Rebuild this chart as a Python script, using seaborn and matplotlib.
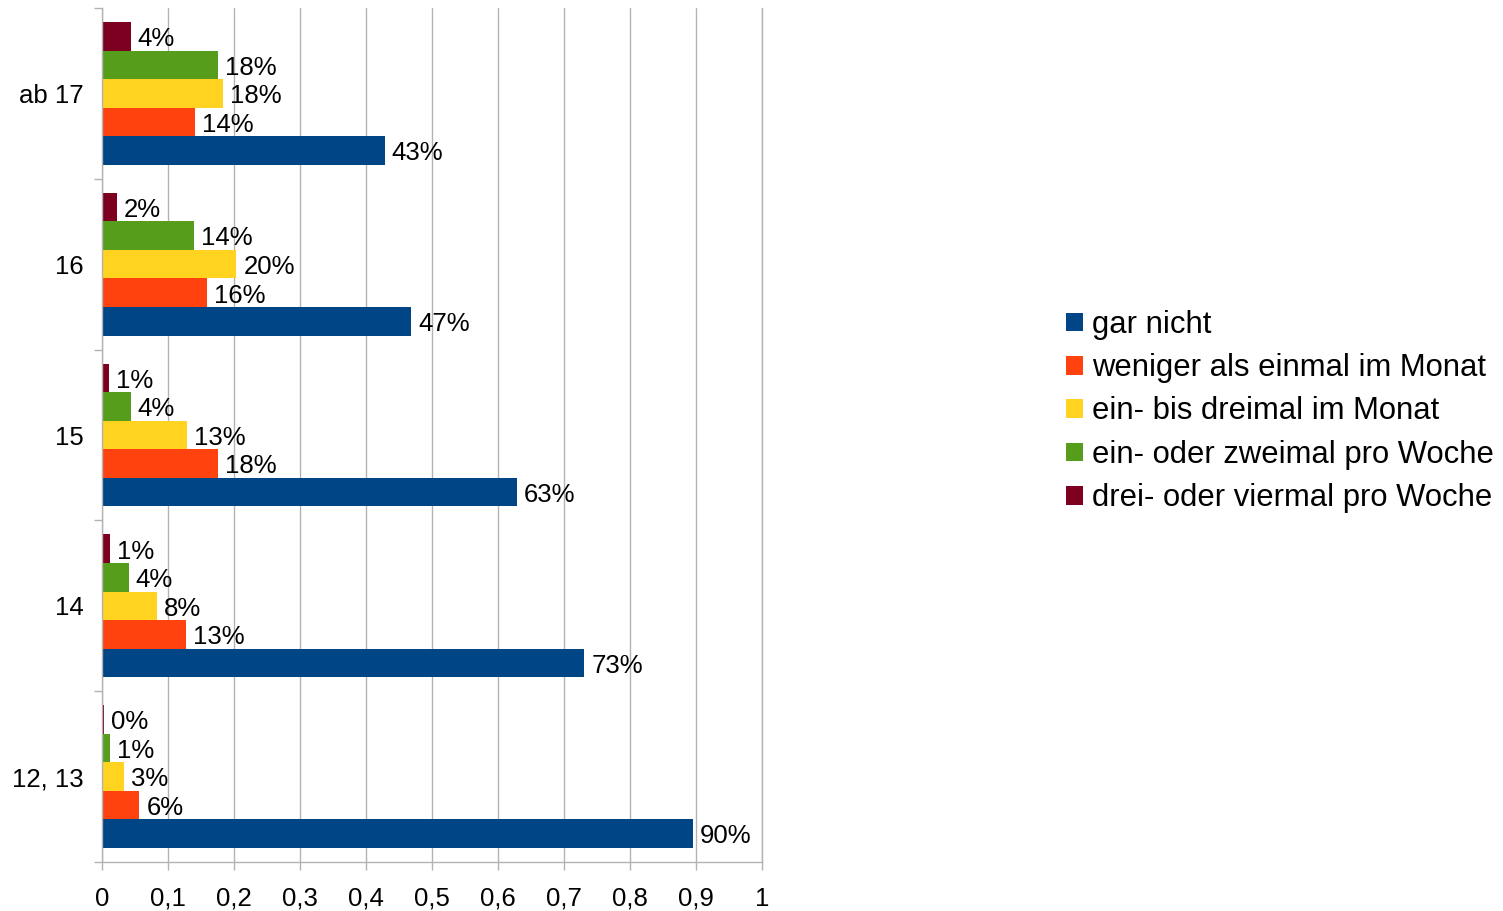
import matplotlib
matplotlib.use("Agg")
import matplotlib.pyplot as plt
from matplotlib.patches import Patch
from matplotlib.ticker import FixedLocator
import numpy as np
import pandas as pd
import seaborn as sns

# Age groups, top to bottom
age_groups = ["ab 17", "16", "15", "14", "12, 13"]

# Share of respondents per frequency answer (fractions of 1)
gar_nicht = [0.429, 0.469, 0.629, 0.731, 0.896]
weniger_als_einmal = [0.141, 0.160, 0.176, 0.128, 0.057]
ein_bis_dreimal = [0.184, 0.204, 0.129, 0.084, 0.034]
ein_oder_zweimal = [0.176, 0.140, 0.044, 0.041, 0.013]
drei_oder_viermal = [0.044, 0.023, 0.011, 0.013, 0.003]

series_names = [
    "gar nicht",
    "weniger als einmal im Monat",
    "ein- bis dreimal im Monat",
    "ein- oder zweimal pro Woche",
    "drei- oder viermal pro Woche",
]
series_values = [gar_nicht, weniger_als_einmal, ein_bis_dreimal,
                 ein_oder_zweimal, drei_oder_viermal]
series_colors = ["#004586", "#ff420e", "#ffd320", "#579d1c", "#7e0021"]

x_ticks = [0, 0.1, 0.2, 0.3, 0.4, 0.5, 0.6, 0.7, 0.8, 0.9, 1]
x_tick_labels = ["0", "0,1", "0,2", "0,3", "0,4", "0,5", "0,6", "0,7", "0,8", "0,9", "1"]

rows = []
for name, vals in zip(series_names, series_values):
    for grp, v in zip(age_groups, vals):
        rows.append({"Alter": grp, "Antwort": name, "Anteil": v})
df = pd.DataFrame(rows)

sns.set_theme(style="white")
plt.rcParams["font.family"] = ["Liberation Sans", "DejaVu Sans"]
plt.rcParams["text.color"] = "black"
plt.rcParams["xtick.color"] = "black"
plt.rcParams["ytick.color"] = "black"

fig = plt.figure(figsize=(15.03, 9.11), dpi=100)
ax = fig.add_axes([0.0677, 0.0538, 0.4391, 0.9374])

# within each group the last series sits at the top
hue_order = series_names[::-1]
palette = dict(zip(series_names, series_colors))

sns.barplot(data=df, y="Alter", x="Anteil", hue="Antwort", order=age_groups,
            hue_order=hue_order, palette=palette, orient="h", width=0.835,
            saturation=1, dodge=True, ax=ax, legend=False, linewidth=0,
            edgecolor="none")

for cont in ax.containers:
    labels = ax.bar_label(cont, fmt=lambda v: f"{v * 100:.0f}%", padding=5,
                          fontsize=18.5, color="black")
    for lab in labels:
        lab.xyann = (5, -2)

ax.set_xlim(0, 1)
ax.set_ylim(4.5, -0.5)
ax.set_xticks(x_ticks)
ax.set_xticklabels(x_tick_labels, fontsize=18.5)
ax.tick_params(axis="x", length=6, width=1, color="#b3b3b3", pad=12,
               bottom=True, direction="out", labelcolor="black")
ax.tick_params(axis="y", which="major", length=0, pad=13, labelsize=18.5,
               labelcolor="black")
ax.yaxis.set_minor_locator(FixedLocator(np.arange(-0.5, 5.0, 1.0)))
ax.tick_params(axis="y", which="minor", length=6, width=1, color="#b3b3b3",
               left=True, direction="out")
ax.set_xlabel("")
ax.set_ylabel("")

ax.grid(axis="x", color="#b3b3b3", linewidth=1)
ax.set_axisbelow(True)
for side in ["left", "bottom", "right"]:
    ax.spines[side].set_visible(True)
    ax.spines[side].set_color("#b3b3b3")
    ax.spines[side].set_linewidth(1)
ax.spines["top"].set_visible(False)

handles = [Patch(facecolor=c, edgecolor="none") for c in series_colors]
fig.legend(handles, series_names, loc="center left",
           bbox_to_anchor=(1066 / 1503, 1 - 411.5 / 911), frameon=False,
           fontsize=22.3, handlelength=0.55, handleheight=0.55,
           handletextpad=0.3, labelspacing=0.43, borderpad=0, borderaxespad=0,
           labelcolor="black")

fig.savefig("out.png", dpi=100)
